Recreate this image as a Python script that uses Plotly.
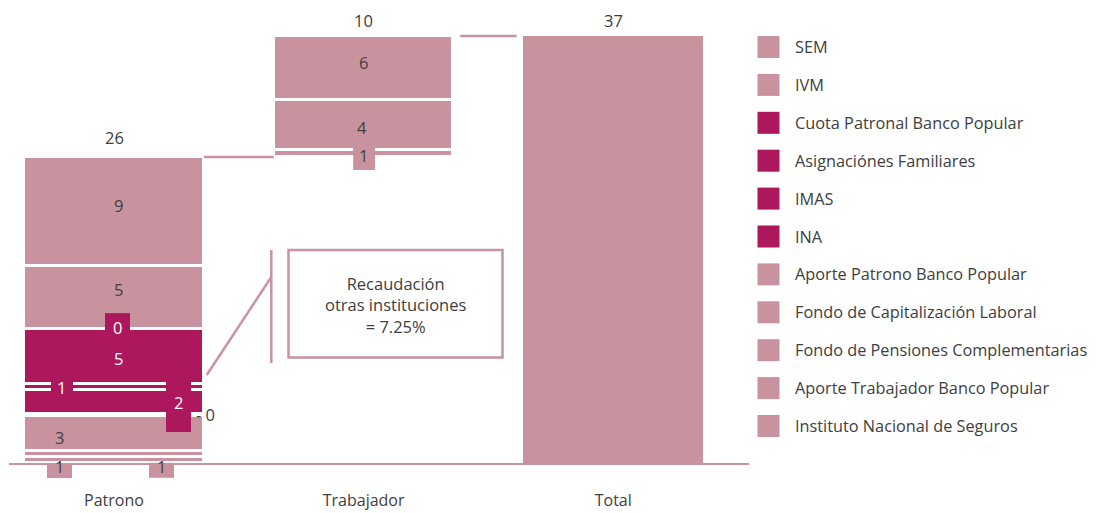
import math
import plotly.graph_objects as go

# ---------------- data ----------------
categories = ["Patrono", "Trabajador", "Total"]

series_names = [
    "SEM",
    "IVM",
    "Cuota Patronal Banco Popular",
    "Asignaciónes Familiares",
    "IMAS",
    "INA",
    "Aporte Patrono Banco Popular",
    "Fondo de Capitalización Laboral",
    "Fondo de Pensiones Complementarias",
    "Aporte Trabajador Banco Popular",
    "Instituto Nacional de Seguros",
]
patrono_values = [9.4, 5.4, 0.25, 4.5, 0.5, 2.0, 0.25, 3.0, 0.5, None, 0.5]
trabajador_values = [5.5, 4.3, None, None, None, None, None, None, None, 0.6, None]
otras_instituciones_pct = 7.25
callout_text = "Recaudación<br>otras instituciones<br>= {:.2f}%"

# ---------------- styles ----------------
PINK = "#C8939F"
MAG = "#AD175C"
TXT = "#404040"
FONT = "Open Sans"
series_colors = [PINK, PINK, MAG, MAG, MAG, MAG, PINK, PINK, PINK, PINK, PINK]

BAR_W = 0.72
PAGE_OFF = 8                       # default body margin of the html page
FIG_W, FIG_H = 1099 - PAGE_OFF, 513 - PAGE_OFF
PLOT_L, PLOT_W, PLOT_T, PLOT_H = 9, 740, 8, 455   # plot area in page pixels
XR = [-0.4207, 2.544]
YR = [0, 39.106]
PX_PER_CAT = PLOT_W / (XR[1] - XR[0])


def pxx(x):
    return (x - PLOT_L) / PLOT_W


def pxy(y):
    return 1 - (y - PLOT_T) / PLOT_H


def cat2paper(c):
    return (c - XR[0]) / (XR[1] - XR[0])


def val2paper(v):
    return (v - YR[0]) / (YR[1] - YR[0])


def rnd(v):
    return int(math.floor(v + 0.5 + 1e-9))


# label placement: (series, category index) -> text offset (tx, ty) px, optional box (bx, by, w, h)
label_place = {
    ("SEM", 0): dict(t=(4, -6.5)),
    ("IVM", 0): dict(t=(4, -8.5)),
    ("Cuota Patronal Banco Popular", 0): dict(t=(3, -3.5), box=(3.5, -8, 25, 19), fg="white"),
    ("Asignaciónes Familiares", 0): dict(t=(4, 0.5), fg="white"),
    ("IMAS", 0): dict(t=(-53, 0.5), box=(-52, 0, 22, 11), fg="white"),
    ("INA", 0): dict(t=(64, 1), box=(64.5, 5, 25, 50), fg="white"),
    ("Aporte Patrono Banco Popular", 0): dict(t=(91.5, -1), prefix="- "),
    ("Fondo de Capitalización Laboral", 0): dict(t=(-54.5, 4)),
    ("Fondo de Pensiones Complementarias", 0): dict(t=(47, 12), box=(47.5, 16, 25, 15)),
    ("Instituto Nacional de Seguros", 0): dict(t=(-54.5, 6.5), box=(-54.5, 10.5, 25, 15)),
    ("SEM", 1): dict(t=(-0.5, -5)),
    ("IVM", 1): dict(t=(-1.5, 2)),
    ("Aporte Trabajador Banco Popular", 1): dict(t=(-0.5, 1.5), box=(0.5, 5.5, 22, 22)),
}

patrono_total = sum(v for v in patrono_values if v is not None)
trabajador_total = sum(v for v in trabajador_values if v is not None)
grand_total = patrono_total + trabajador_total

fig = go.Figure()

# invisible base so that Trabajador floats on top of Patrono (waterfall)
fig.add_trace(go.Bar(
    x=categories, y=[None, patrono_total, None], width=BAR_W,
    marker=dict(color="rgba(0,0,0,0)", line=dict(width=0)),
    hoverinfo="skip", showlegend=False,
))

order = list(range(len(series_names)))[::-1]  # bottom -> top
cum = {0: 0.0, 1: patrono_total}
centers = {}
for i in order:
    name = series_names[i]
    vals = [patrono_values[i], trabajador_values[i], None]
    if name == "Cuota Patronal Banco Popular":
        line = dict(color=MAG, width=3)
        w = BAR_W - 6 / PX_PER_CAT
    else:
        line = dict(color="white", width=3)
        w = BAR_W
    fig.add_trace(go.Bar(
        x=categories, y=vals, width=w, name=name,
        marker=dict(color=series_colors[i], line=line),
        hoverinfo="skip", showlegend=False,
    ))
    for c in (0, 1):
        v = vals[c]
        if v is None:
            continue
        centers[(name, c)] = (cum[c] + v / 2, v)
        cum[c] += v

fig.add_trace(go.Bar(
    x=categories, y=[None, None, grand_total], width=BAR_W, name="Total",
    marker=dict(color=PINK, line=dict(width=0)),
    hoverinfo="skip", showlegend=False,
))

shapes = []
annotations = []

# segment labels
for (name, c), (yc, v) in centers.items():
    p = label_place.get((name, c), dict(t=(0, 0)))
    if "box" in p:
        bx, by, w, h = p["box"]
        shapes.append(dict(
            type="rect", layer="above", xref="paper", yref="paper",
            xsizemode="pixel", ysizemode="pixel",
            xanchor=cat2paper(c), yanchor=val2paper(yc),
            x0=bx - w / 2, x1=bx + w / 2, y0=-(by + h / 2), y1=-(by - h / 2),
            fillcolor=series_colors[series_names.index(name)], line=dict(width=0),
        ))
    tx, ty = p["t"]
    annotations.append(dict(
        x=c, y=yc, xref="x", yref="y", xshift=tx, yshift=-ty,
        text=p.get("prefix", "") + str(rnd(v)), showarrow=False,
        font=dict(family=FONT, size=16.5, color=p.get("fg", TXT)),
        xanchor="center", yanchor="middle",
    ))

# totals above bars
for c, (top, val, sh) in enumerate([(patrono_total, patrono_total, 20),
                                     (grand_total, trabajador_total, 15.5),
                                     (grand_total, grand_total, 15.5)]):
    annotations.append(dict(
        x=c, y=top, xref="x", yref="y", yshift=sh, text=str(rnd(val)),
        showarrow=False, font=dict(family=FONT, size=16.5, color=TXT),
        xanchor="center", yanchor="middle",
    ))

# waterfall connectors
shapes.append(dict(type="line", xref="x", yref="y", x0=0 + BAR_W / 2, x1=1 - BAR_W / 2,
                   y0=patrono_total, y1=patrono_total, line=dict(color=PINK, width=2.5)))
shapes.append(dict(type="line", xref="x", yref="y", x0=1 + BAR_W / 2 + 0.027, x1=2 - BAR_W / 2 - 0.027,
                   y0=grand_total, y1=grand_total, line=dict(color=PINK, width=2.5)))

# callout
shapes.append(dict(type="line", xref="paper", yref="paper", x0=pxx(206.7), y0=pxy(375),
                   x1=pxx(271.3), y1=pxy(277), line=dict(color=PINK, width=2.5)))
shapes.append(dict(type="line", xref="paper", yref="paper", x0=pxx(271.3), y0=pxy(250),
                   x1=pxx(271.3), y1=pxy(363), line=dict(color=PINK, width=2.5)))
shapes.append(dict(type="rect", xref="paper", yref="paper", x0=pxx(288.5), y0=pxy(250),
                   x1=pxx(502.5), y1=pxy(357.5), line=dict(color=PINK, width=2.5),
                   fillcolor="rgba(0,0,0,0)"))
annotations.append(dict(
    x=pxx(395.5), y=pxy(305), xref="paper", yref="paper",
    text=callout_text.format(otras_instituciones_pct), showarrow=False, align="center",
    font=dict(family=FONT, size=16.5, color=TXT), xanchor="center", yanchor="middle",
))

# custom legend
for i, name in enumerate(series_names):
    yc = 47 + i * 37.9
    shapes.append(dict(type="rect", xref="paper", yref="paper",
                       x0=pxx(757.5), x1=pxx(779.5), y0=pxy(yc - 11), y1=pxy(yc + 11),
                       fillcolor=series_colors[i], line=dict(width=0)))
    annotations.append(dict(
        x=pxx(793), y=pxy(yc), xref="paper", yref="paper", text=name, showarrow=False,
        font=dict(family=FONT, size=16.3, color=TXT), xanchor="left", yanchor="middle",
    ))

fig.update_layout(
    width=FIG_W, height=FIG_H,
    margin=dict(l=PLOT_L - PAGE_OFF, r=FIG_W - (PLOT_L - PAGE_OFF) - PLOT_W,
                t=PLOT_T - PAGE_OFF, b=FIG_H - (PLOT_T - PAGE_OFF) - PLOT_H),
    barmode="stack", bargap=0,
    plot_bgcolor="white", paper_bgcolor="white",
    showlegend=False,
    shapes=shapes, annotations=annotations,
    xaxis=dict(type="category", range=XR, showline=True, linecolor=PINK,
               linewidth=2, showgrid=False, zeroline=False, ticks="outside", ticklen=22,
               tickcolor="rgba(0,0,0,0)", tickfont=dict(family=FONT, size=16, color=TXT),
               fixedrange=True, automargin=False),
    yaxis=dict(range=YR, visible=False, showgrid=False, zeroline=False,
               fixedrange=True),
)

fig.write_html("out.html")
